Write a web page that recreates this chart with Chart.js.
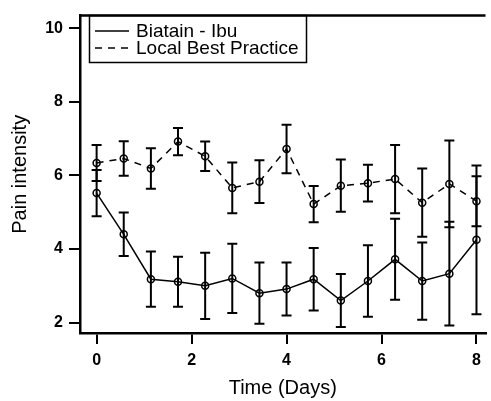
<!DOCTYPE html>
<html lang="en">
<head>
<meta charset="UTF-8">
<title>Pain intensity</title>
<script src="https://cdn.jsdelivr.net/npm/chart.js"></script>
<style>
  html, body { margin: 0; padding: 0; background: #fff; overflow: hidden; }
</style>
</head>
<body>
<canvas id="painChart" width="491" height="401"></canvas>
<script>
// data
const days = [0, 0.571, 1.143, 1.714, 2.286, 2.857, 3.429, 4.0, 4.571, 5.143, 5.714, 6.286, 6.857, 7.429, 8.0];
const biatain = [5.52, 4.40, 3.18, 3.11, 3.00, 3.20, 2.80, 2.91, 3.18, 2.60, 3.13, 3.72, 3.13, 3.33, 4.25];
const biatainErr = [0.63, 0.59, 0.75, 0.68, 0.90, 0.94, 0.83, 0.72, 0.85, 0.72, 0.97, 1.10, 1.05, 1.41, 2.02];
const localBest = [6.34, 6.46, 6.19, 6.92, 6.52, 5.66, 5.83, 6.72, 5.22, 5.72, 5.79, 5.90, 5.26, 5.77, 5.30];
const localBestErr = [0.49, 0.47, 0.55, 0.37, 0.40, 0.69, 0.58, 0.66, 0.49, 0.71, 0.50, 0.93, 0.93, 1.18, 0.68];
const xTicks = [0, 2, 4, 6, 8];
const yTicks = [2, 4, 6, 8, 10];

const FONT = '"Liberation Sans", Arial, sans-serif';
const DASH = [7, 6];

// vertical error bars with caps, drawn under the markers
const errorBars = {
  id: 'errorBars',
  beforeDatasetsDraw(chart) {
    const { ctx, scales: { x, y } } = chart;
    ctx.save();
    ctx.strokeStyle = '#000';
    ctx.lineWidth = 2;
    chart.data.datasets.forEach(ds => {
      ds.data.forEach((p, i) => {
        const px = x.getPixelForValue(p.x);
        const top = y.getPixelForValue(p.y + ds.errors[i]);
        const bot = y.getPixelForValue(p.y - ds.errors[i]);
        ctx.beginPath();
        ctx.moveTo(px, top); ctx.lineTo(px, bot);
        ctx.moveTo(px - 5, top); ctx.lineTo(px + 5, top);
        ctx.moveTo(px - 5, bot); ctx.lineTo(px + 5, bot);
        ctx.stroke();
      });
    });
    ctx.restore();
  }
};

// top frame line + boxed legend in the upper left
const frameLegend = {
  id: 'frameLegend',
  afterDraw(chart) {
    const { ctx, chartArea: a } = chart;
    ctx.save();
    ctx.strokeStyle = '#000';
    ctx.lineWidth = 2.5;
    ctx.beginPath();
    ctx.moveTo(a.left, a.top); ctx.lineTo(a.right, a.top);
    ctx.stroke();

    ctx.lineWidth = 1.5;
    ctx.strokeRect(89.5, 15.5, 217, 47);

    ctx.font = '19px ' + FONT;
    ctx.fillStyle = '#000';
    ctx.textBaseline = 'middle';
    chart.data.datasets.forEach((ds, i) => {
      const cy = 31 + i * 17;
      ctx.setLineDash(ds.borderDash || []);
      ctx.beginPath();
      ctx.moveTo(95, cy); ctx.lineTo(129, cy);
      ctx.stroke();
      ctx.setLineDash([]);
      ctx.fillText(ds.label, 136, cy + 1);
    });
    ctx.restore();
  }
};

const toPoints = (vals) => vals.map((v, i) => ({ x: days[i], y: v }));

const ctx = document.getElementById('painChart').getContext('2d');
new Chart(ctx, {
  type: 'line',
  data: {
    datasets: [{
      label: 'Biatain - Ibu',
      data: toPoints(biatain),
      errors: biatainErr,
      borderColor: '#000',
      borderWidth: 1.5,
      pointRadius: 3.5,
      pointBorderWidth: 1.5,
      pointBorderColor: '#000',
      pointBackgroundColor: 'rgba(0,0,0,0)',
      tension: 0,
      clip: false
    }, {
      label: 'Local Best Practice',
      data: toPoints(localBest),
      errors: localBestErr,
      borderColor: '#000',
      borderWidth: 1.5,
      borderDash: DASH,
      pointRadius: 3.5,
      pointBorderWidth: 1.5,
      pointBorderColor: '#000',
      pointBackgroundColor: 'rgba(0,0,0,0)',
      tension: 0,
      clip: false
    }]
  },
  options: {
    responsive: false,
    animation: false,
    layout: { padding: { top: 7, right: 0, left: 0, bottom: 0 } },
    plugins: { legend: { display: false }, tooltip: { enabled: false } },
    scales: {
      x: {
        type: 'linear',
        min: -0.35,
        max: 8.19,
        afterFit(s) { s.height = 68; },
        afterBuildTicks(s) { s.ticks = xTicks.map(v => ({ value: v })); },
        grid: { display: true, drawOnChartArea: false, drawTicks: true, tickLength: 11, color: '#000', lineWidth: 2 },
        border: { display: true, color: '#000', width: 2.5 },
        ticks: { color: '#000', font: { family: FONT, size: 16, weight: 'bold' }, padding: 7, maxRotation: 0 },
        title: { display: true, text: 'Time (Days)', color: '#000', font: { family: FONT, size: 20 }, padding: { top: 0, bottom: 1 } }
      },
      y: {
        min: 1.717,
        max: 10.344,
        afterFit(s) { s.width = 80; },
        afterBuildTicks(s) { s.ticks = yTicks.map(v => ({ value: v })); },
        grid: { display: true, drawOnChartArea: false, drawTicks: true, tickLength: 11, color: '#000', lineWidth: 2 },
        border: { display: true, color: '#000', width: 2.5 },
        ticks: { color: '#000', font: { family: FONT, size: 16, weight: 'bold' }, padding: 6 },
        title: { display: true, text: 'Pain intensity', color: '#000', font: { family: FONT, size: 20 }, padding: { top: 8, bottom: 0 } }
      }
    }
  },
  plugins: [errorBars, frameLegend]
});
</script>
</body>
</html>
